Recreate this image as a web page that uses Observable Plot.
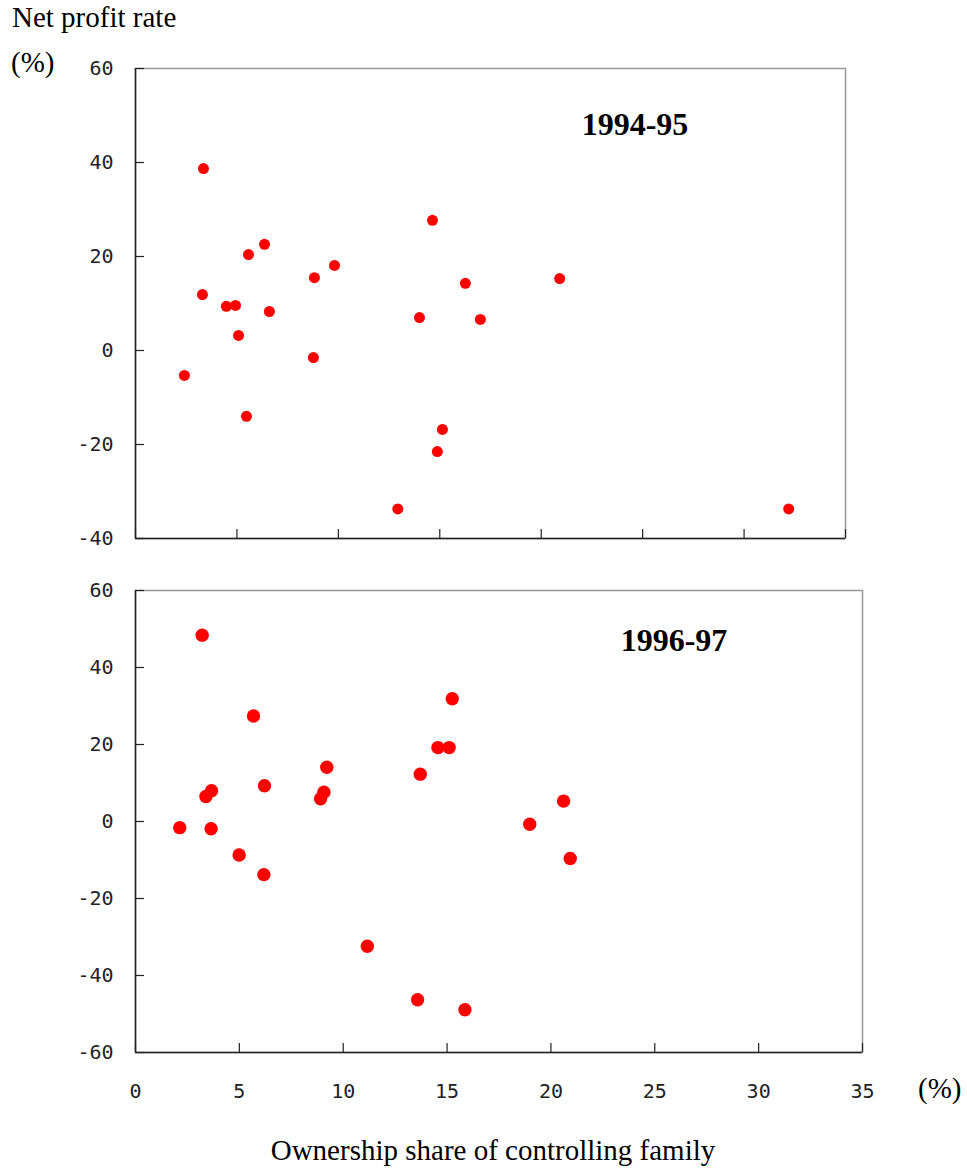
<!DOCTYPE html>
<html><head><meta charset="utf-8">
<script src="https://cdn.jsdelivr.net/npm/d3@7"></script>
<script src="https://cdn.jsdelivr.net/npm/@observablehq/plot@0.6"></script>
<style>
html,body{margin:0;padding:0;background:#fff;overflow:hidden}
#wrap{position:relative;width:967px;height:1172px;background:#fff}
.t{position:absolute;font-family:"Liberation Serif","Times New Roman",serif;color:#000;line-height:1;white-space:nowrap}
.box{position:absolute;left:0}
</style></head><body>
<div id="wrap">
  <div class="t" style="left:12px;top:3px;font-size:29px">Net profit rate</div>
  <div class="t" style="left:11px;top:48px;font-size:29px">(%)</div>
  <div class="t" style="left:535px;top:108px;width:200px;text-align:center;font-size:32px;font-weight:bold">1994-95</div>
  <div class="t" style="left:574px;top:624px;width:200px;text-align:center;font-size:32px;font-weight:bold">1996-97</div>
  <div class="t" style="left:918px;top:1074px;font-size:29px">(%)</div>
  <div class="t" style="left:193px;top:1136px;width:600px;text-align:center;font-size:29px">Ownership share of controlling family</div>
  <div class="box" id="top" style="top:0px"></div>
  <div class="box" id="bottom" style="top:570px"></div>
</div>
<script>
// 1994-95 panel: ownership share (%) and net profit rate (%)
const ownership9495 = [3.35, 3.30, 2.41, 4.48, 4.93, 5.08, 5.57, 6.36, 5.47, 6.60, 8.82, 8.77, 9.81, 14.64, 14.0, 16.26, 17.0, 15.13, 14.88, 12.93, 20.91, 32.2];
const profit9495    = [38.7, 11.9, -5.3, 9.4, 9.6, 3.2, 20.4, 22.6, -14.0, 8.3, 15.5, -1.5, 18.1, 27.7, 7.0, 14.3, 6.6, -16.8, -21.5, -33.7, 15.3, -33.7];
// 1996-97 panel
const ownership9697 = [3.21, 5.68, 15.25, 14.56, 15.10, 13.71, 9.21, 6.21, 3.66, 3.39, 9.07, 8.91, 2.13, 3.64, 4.99, 6.18, 11.16, 13.58, 15.86, 18.98, 20.61, 20.93];
const profit9697    = [48.4, 27.4, 31.9, 19.2, 19.2, 12.3, 14.1, 9.3, 8.0, 6.5, 7.6, 5.9, -1.6, -1.9, -8.7, -13.8, -32.4, -46.3, -48.9, -0.7, 5.3, -9.6];
// axes
const xTicks = [0, 5, 10, 15, 20, 25, 30, 35];
const yTicks9495 = [-40, -20, 0, 20, 40, 60];
const yTicks9697 = [-60, -40, -20, 0, 20, 40, 60];

function panel({xs, ys, yTicks, height, marginTop, marginBottom, marginRight, r, xLabels}) {
  const width = 967, marginLeft = 135;
  const plotW = width - marginLeft - marginRight;
  const plotH = height - marginTop - marginBottom;
  const data = xs.map((x, i) => ({x, y: ys[i]}));
  const yDomain = [yTicks[0], yTicks[yTicks.length - 1]];
  const marks = [
    Plot.frame({stroke: "#999", strokeWidth: 1.5}),
    Plot.ruleX([0], {stroke: "#222", strokeWidth: 1.5}),
    Plot.ruleY([yDomain[0]], {stroke: "#222", strokeWidth: 1.5}),
    Plot.tickY(yTicks, {y: d => d, insetRight: plotW - 9, stroke: "#222", strokeWidth: 1.2}),
    Plot.tickX(xTicks, {x: d => d, insetTop: plotH - 9, stroke: "#222", strokeWidth: 1.2}),
    Plot.axisY({ticks: yTicks, tickSize: 0, tickPadding: 22, tickFormat: d => String(d), label: null}),
    Plot.dot(data, {x: "x", y: "y", r, fill: "#ff0000", stroke: null})
  ];
  if (xLabels) marks.push(Plot.axisX({ticks: xTicks, tickSize: 0, tickPadding: 31, tickFormat: d => String(d), label: null}));
  return Plot.plot({
    width, height, marginLeft, marginRight, marginTop, marginBottom,
    x: {domain: [0, 35], axis: xLabels ? undefined : null},
    y: {domain: yDomain},
    style: {fontFamily: "'DejaVu Sans Mono', monospace", fontSize: "20px", color: "#222", background: "transparent", overflow: "visible"},
    marks
  });
}

document.getElementById("top").append(panel({
  xs: ownership9495, ys: profit9495, yTicks: yTicks9495,
  height: 560, marginTop: 68, marginBottom: 22, marginRight: 122, r: 5.5, xLabels: false
}));
document.getElementById("bottom").append(panel({
  xs: ownership9697, ys: profit9697, yTicks: yTicks9697,
  height: 542, marginTop: 20, marginBottom: 60, marginRight: 105, r: 6.7, xLabels: true
}));
</script>
</body></html>
